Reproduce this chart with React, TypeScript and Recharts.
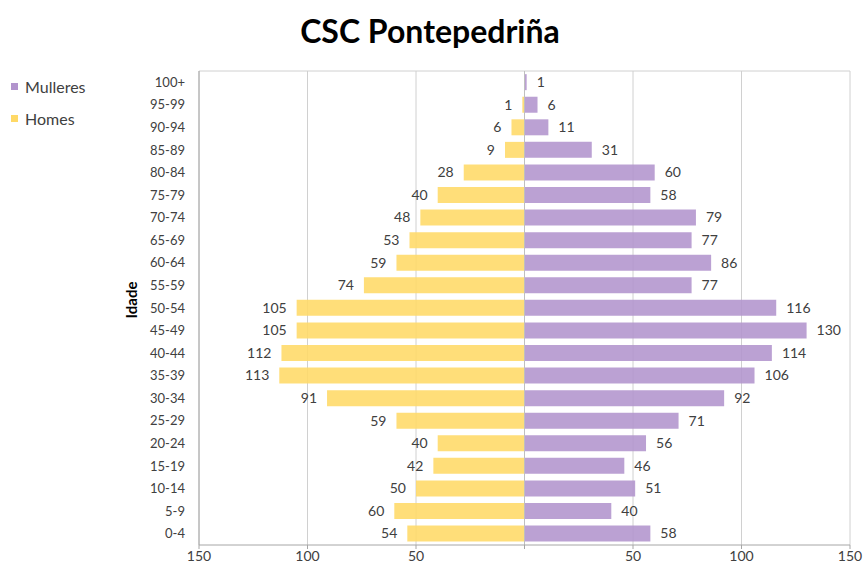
import { BarChart, Bar, XAxis, YAxis, CartesianGrid, ReferenceLine, LabelList } from "recharts";

const ageGroups = ["100+", "95-99", "90-94", "85-89", "80-84", "75-79", "70-74", "65-69", "60-64", "55-59", "50-54", "45-49", "40-44", "35-39", "30-34", "25-29", "20-24", "15-19", "10-14", "5-9", "0-4"];
const mulleres = [1, 6, 11, 31, 60, 58, 79, 77, 86, 77, 116, 130, 114, 106, 92, 71, 56, 46, 51, 40, 58];
const homes = [0, 1, 6, 9, 28, 40, 48, 53, 59, 74, 105, 105, 112, 113, 91, 59, 40, 42, 50, 60, 54];
const xTicks = [-150, -100, -50, 0, 50, 100, 150];

const data = ageGroups.map((age, i) => ({ age, mulleres: mulleres[i], homes: -homes[i] }));

const FONT = "Lato, 'Open Sans', sans-serif";
const PURPLE = "#B294CD";
const YELLOW = "#FFD966";

function SideLabel(props: any) {
  const { x, y, width, height, value } = props;
  if (!value) return null;
  const left = value < 0;
  const edge = left ? Math.min(x, x + width) : Math.max(x, x + width);
  return (
    <text
      x={left ? edge - 10 : edge + 10}
      y={y + height / 2}
      dy="0.35em"
      textAnchor={left ? "end" : "start"}
      fill="#404040"
      fontSize={14}
      fontFamily={FONT}
    >
      {Math.abs(value)}
    </text>
  );
}

export default function App() {
  return (
    <div style={{ position: "absolute", left: 0, top: 0, width: 865, height: 572, background: "#fff", fontFamily: FONT }}>
      <div style={{ position: "absolute", left: 0, width: 860, top: 11, textAlign: "center", fontSize: 32, fontWeight: 700, color: "#000" }}>
        CSC Pontepedriña
      </div>
      <div style={{ position: "absolute", left: 11, top: 76, fontSize: 16, color: "#404040" }}>
        <div style={{ display: "flex", alignItems: "center", height: 20 }}>
          <span style={{ width: 7, height: 7, background: PURPLE, marginRight: 7, display: "inline-block" }} />
          Mulleres
        </div>
        <div style={{ display: "flex", alignItems: "center", height: 20, marginTop: 12 }}>
          <span style={{ width: 7, height: 7, background: YELLOW, marginRight: 7, display: "inline-block" }} />
          Homes
        </div>
      </div>
      <div style={{ position: "absolute", left: 131, top: 300, transform: "translate(-50%, -50%) rotate(-90deg)", fontSize: 15, fontWeight: 700, color: "#000" }}>
        Idade
      </div>
      <BarChart
        width={865}
        height={572}
        data={data}
        layout="vertical"
        stackOffset="sign"
        barCategoryGap="14%"
        margin={{ top: 71, right: 15, bottom: 0, left: 139 }}
      >
        <CartesianGrid
          stroke="#d0d0d0"
          horizontalCoordinatesGenerator={({ offset }: any) => [offset.top]}
        />
        <XAxis
          type="number"
          domain={[-150, 150]}
          ticks={xTicks}
          tickFormatter={(v: number) => (v === 0 ? "" : String(Math.abs(v)))}
          tick={{ fontSize: 14, fill: "#404040", fontFamily: FONT }}
          tickSize={4}
          stroke="#a6a6a6"
          height={27}
        />
        <YAxis
          type="category"
          dataKey="age"
          width={60}
          tickLine={false}
          tickSize={6}
          tickMargin={8}
          stroke="#a6a6a6"
          interval={0}
          tick={{ fontSize: 13, fill: "#404040", fontFamily: FONT }}
        />
        <Bar dataKey="homes" stackId="a" fill={YELLOW} fillOpacity={0.88} isAnimationActive={false}>
          <LabelList dataKey="homes" content={SideLabel} />
        </Bar>
        <Bar dataKey="mulleres" stackId="a" fill={PURPLE} fillOpacity={0.88} isAnimationActive={false}>
          <LabelList dataKey="mulleres" content={SideLabel} />
        </Bar>
        <ReferenceLine x={0} stroke="#bfbfbf" strokeWidth={1} />
      </BarChart>
    </div>
  );
}
